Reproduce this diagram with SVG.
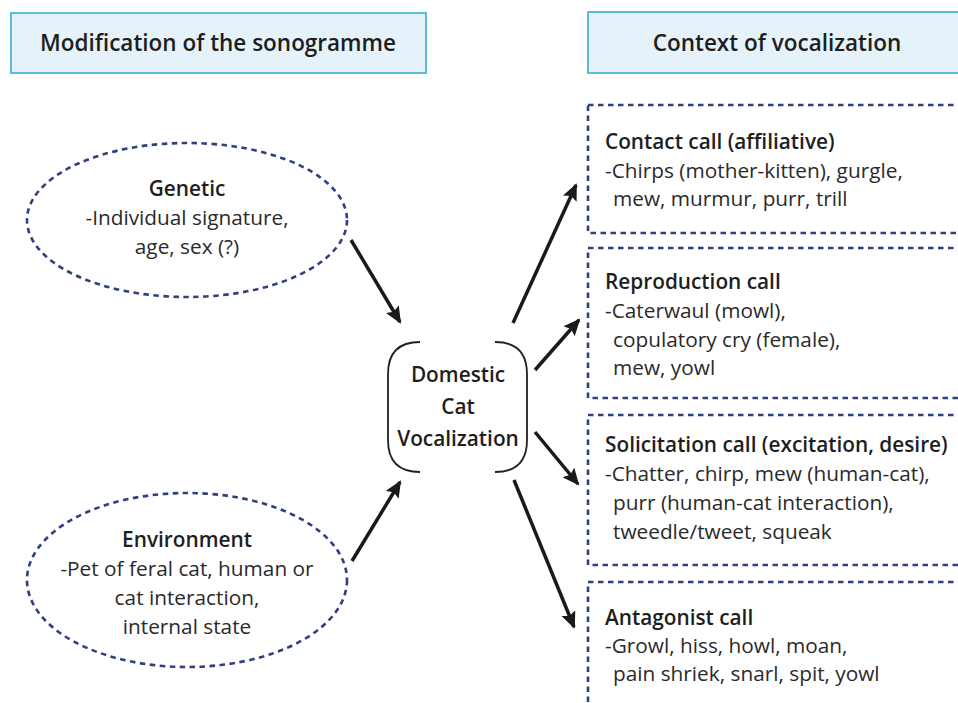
<svg xmlns="http://www.w3.org/2000/svg" width="958" height="703" viewBox="0 0 958 703">
<defs>
<marker id="ah2" markerWidth="17" markerHeight="15" refX="15" refY="7.5" orient="auto" markerUnits="userSpaceOnUse" viewBox="0 0 17 15">
<path d="M0,0 L17,7.5 L0,15 L3,7.5 Z" fill="#1a1a1a"/>
</marker>
<style>
.hdr{fill:#e6f2fa;stroke:#5bbdd6;stroke-width:2}
.hdrt{font-family:"Open Sans","Liberation Sans",sans-serif;font-size:22.5px;font-weight:600;fill:#1e1e1e;text-anchor:middle}
.dash{fill:none;stroke:#2f3f82;stroke-width:2.6;stroke-dasharray:5.5 4.5}
.t{font-family:"Open Sans","Liberation Sans",sans-serif;font-size:20.8px;fill:#2a2a2a}
.b{font-weight:600;fill:#1e1e1e}
.c{text-anchor:middle}
.conn line{stroke:#1a1a1a;stroke-width:3.5;marker-end:url(#ah2)}
.br{fill:none;stroke:#222;stroke-width:1.8}
</style>
</defs>
<rect width="958" height="703" fill="#ffffff"/>

<g id="header-left">
<rect class="hdr" x="11" y="13" width="415" height="60"/>
<text class="hdrt" x="218" y="51">Modification of the sonogramme</text>
</g>
<g id="header-right">
<rect class="hdr" x="588" y="12" width="380" height="61"/>
<text class="hdrt" x="777" y="51">Context of vocalization</text>
</g>

<g id="genetic">
<ellipse class="dash" cx="187" cy="220" rx="160" ry="77"/>
<text class="t c" x="187" y="196"><tspan class="b">Genetic</tspan></text>
<text class="t c" x="187" y="225">-Individual signature,</text>
<text class="t c" x="187" y="254">age, sex (?)</text>
</g>

<g id="environment">
<ellipse class="dash" cx="187" cy="580" rx="160" ry="87"/>
<text class="t c" x="187" y="547"><tspan class="b">Environment</tspan></text>
<text class="t c" x="187" y="576">-Pet of feral cat, human or</text>
<text class="t c" x="187" y="605">cat interaction,</text>
<text class="t c" x="187" y="634">internal state</text>
</g>

<g id="center">
<path class="br" d="M420,342 Q388,342 388,374 L388,440 Q388,472 420,472"/>
<path class="br" d="M495,342 Q527,342 527,374 L527,440 Q527,472 495,472"/>
<text class="t b c" x="458" y="382">Domestic</text>
<text class="t b c" x="458" y="414">Cat</text>
<text class="t b c" x="458" y="446">Vocalization</text>
</g>

<g id="contact">
<rect class="dash" x="588" y="105" width="390" height="128"/>
<text class="t b" x="605" y="149">Contact call (affiliative)</text>
<text class="t" x="605" y="178">-Chirps (mother-kitten), gurgle,</text>
<text class="t" x="613" y="206">mew, murmur, purr, trill</text>
</g>

<g id="reproduction">
<rect class="dash" x="588" y="248" width="390" height="150"/>
<text class="t b" x="605" y="289">Reproduction call</text>
<text class="t" x="605" y="318">-Caterwaul (mowl),</text>
<text class="t" x="613" y="347">copulatory cry (female),</text>
<text class="t" x="613" y="375">mew, yowl</text>
</g>

<g id="solicitation">
<rect class="dash" x="588" y="415" width="390" height="150"/>
<text class="t b" x="605" y="452">Solicitation call (excitation, desire)</text>
<text class="t" x="605" y="481">-Chatter, chirp, mew (human-cat),</text>
<text class="t" x="613" y="510">purr (human-cat interaction),</text>
<text class="t" x="613" y="539">tweedle/tweet, squeak</text>
</g>

<g id="antagonist">
<rect class="dash" x="588" y="582" width="390" height="140"/>
<text class="t b" x="605" y="625">Antagonist call</text>
<text class="t" x="605" y="653">-Growl, hiss, howl, moan,</text>
<text class="t" x="613" y="681">pain shriek, snarl, spit, yowl</text>
</g>

<g id="connectors" class="conn">
<line x1="351" y1="240" x2="400" y2="322"/>
<line x1="352" y1="561" x2="400" y2="482"/>
<line x1="513" y1="323" x2="576" y2="185"/>
<line x1="535" y1="370" x2="579" y2="320"/>
<line x1="535" y1="432" x2="578" y2="484"/>
<line x1="514" y1="480" x2="574" y2="627"/>
</g>
</svg>
